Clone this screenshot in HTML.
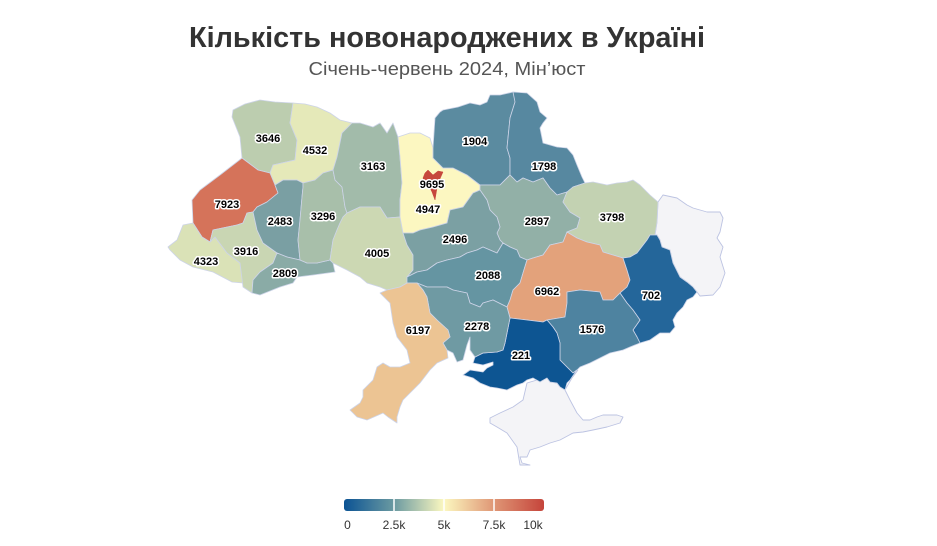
<!DOCTYPE html>
<html>
<head>
<meta charset="utf-8">
<style>
  html, body { margin:0; padding:0; background:#ffffff; }
  body { width:937px; height:546px; overflow:hidden; }
  svg { display:block; }
  .r { stroke:#cdd4e8; stroke-width:0.8; stroke-linejoin:round; }
  .g { fill:#f4f4f7; stroke:#bcc3e2; stroke-width:0.9; stroke-linejoin:round; }
  .lbl { font-family:"Liberation Sans", Arial, sans-serif; font-weight:bold; font-size:11px; fill:#000;
         stroke:#ffffff; stroke-width:3px; stroke-linejoin:round; paint-order:stroke; text-anchor:middle; }
</style>
</head>
<body>
<svg width="937" height="546" viewBox="0 0 937 546" xmlns="http://www.w3.org/2000/svg">
  <rect width="937" height="546" fill="#ffffff"/>

  <text x="447" y="47" text-anchor="middle" font-family="Liberation Sans, Arial, sans-serif" font-weight="bold" font-size="29" fill="#333333" textLength="516" lengthAdjust="spacingAndGlyphs">Кількість новонароджених в Україні</text>
  <text x="447" y="75" text-anchor="middle" font-family="Liberation Sans, Arial, sans-serif" font-size="18" fill="#555555" textLength="277" lengthAdjust="spacingAndGlyphs">Січень-червень 2024, Мін’юст</text>

  <!-- Gray: Luhansk, Crimea -->
  <polygon class="g" points="658,202 663,195 677,198 687,205 693,208 707,212 720,212 723,218 720,232 717,238 723,247 720,257 725,273 720,287 713,295 700,296 697,292 693,287 687,282 680,277 673,263 670,250 662,247 660,240 657,235 655,235 657,222"/>
  <polygon class="g" points="490,418 500,413 513,407 523,400 527,383 537,380 547,378 550,382 557,383 560,387 565,390 570,400 577,413 583,420 590,420 597,417 603,415 617,415 623,417 620,423 607,427 593,430 583,432 573,433 560,440 550,443 540,447 530,450 527,457 520,457 522,463 530,465 520,465 517,447 507,433 497,427 490,423"/>
  <polyline points="565,390 572,378 578,370" fill="none" stroke="#bcc3e2" stroke-width="0.8"/>

  <!-- Volyn 3646 -->
  <polygon class="r" fill="#bccdaf" points="233,110 245,104 260,100 275,102 293,103 290,123 297,140 295,160 273,165 270,173 258,170 242,158 240,137 232,117"/>
  <!-- Rivne 4532 -->
  <polygon class="r" fill="#e5e9b9" points="293,103 305,104 317,107 330,113 340,120 352,123 342,133 337,157 333,170 323,173 315,180 303,183 297,180 283,180 275,185 270,173 273,165 295,160 297,140 290,123"/>
  <!-- Lviv 7923 -->
  <polygon class="r" fill="#d5735a" points="242,158 258,170 270,173 275,185 278,193 267,202 257,207 253,212 247,213 243,223 237,225 213,230 210,242 202,237 193,223 192,200 200,190 220,175"/>
  <!-- Zakarpattia 4323 -->
  <polygon class="r" fill="#dae2b7" points="183,225 193,223 202,237 210,242 215,237 227,253 240,263 243,283 232,282 213,272 193,267 180,260 170,250 168,247 177,240"/>
  <!-- Ivano-Frankivsk 3916 -->
  <polygon class="r" fill="#c9d6b3" points="213,230 237,225 243,223 247,213 253,212 257,230 263,243 277,253 273,263 260,272 253,280 252,293 243,287 240,263 227,253 215,237 210,242"/>
  <!-- Ternopil 2483 -->
  <polygon class="r" fill="#7a9fa3" points="275,185 283,180 297,180 303,183 303,187 302,197 300,220 298,240 300,260 287,257 277,253 263,243 257,230 253,212 257,207 267,202 278,193"/>
  <!-- Chernivtsi 2809 -->
  <polygon class="r" fill="#8aaba6" points="253,280 260,272 273,263 277,253 287,257 300,260 307,263 317,263 330,260 333,263 335,272 313,275 297,277 293,283 280,287 260,295 252,293"/>
  <!-- Khmelnytskyi 3296 -->
  <polygon class="r" fill="#a8bfaa" points="303,183 315,180 323,173 333,170 335,180 342,187 345,207 347,213 343,217 340,223 337,230 333,240 330,260 317,263 307,263 300,260 298,240 300,220 302,197 303,187"/>
  <!-- Zhytomyr 3163 -->
  <polygon class="r" fill="#a2bbaa" points="352,123 360,123 373,127 380,123 387,133 393,123 398,137 400,157 402,183 400,200 400,217 387,218 380,207 360,207 347,213 345,207 342,187 335,180 333,170 337,157 342,133"/>
  <!-- Vinnytsia 4005 -->
  <polygon class="r" fill="#ccd8b3" points="347,213 360,207 380,207 387,218 400,217 403,233 407,245 413,255 413,270 407,277 407,283 400,287 387,290 380,287 367,283 360,277 347,270 333,263 330,260 333,240 337,230 340,223 343,217"/>
  <!-- Kyiv oblast 4947 -->
  <polygon class="r" fill="#fcf7c1" points="398,137 410,133 420,133 430,138 433,148 433,158 443,168 453,168 467,175 480,185 480,190 473,193 463,207 450,210 447,223 433,227 420,230 413,233 403,233 400,217 400,200 402,183 400,157"/>
  <!-- Kyiv city 9695 -->
  <polygon fill="#c6473c" stroke="#c6473c" stroke-width="0.5" points="425,173 428,170 433,175 438,171 443,172 439,181 437,188 435,200 432,192 430,188 425,185 423,178"/>
  <!-- Chernihiv 1904 -->
  <polygon class="r" fill="#5b8ba0" points="433,148 435,118 440,112 443,110 458,107 470,103 480,105 487,102 490,95 500,95 513,92 518,93 515,102 510,118 507,148 510,158 510,175 500,185 487,185 480,185 467,175 453,168 443,168 433,158"/>
  <!-- Sumy 1798 -->
  <polygon class="r" fill="#5788a0" points="513,92 527,93 537,102 540,112 547,118 543,123 540,128 543,143 557,147 567,148 573,155 577,165 582,177 585,183 573,187 567,192 557,195 550,188 543,178 533,182 523,178 517,182 510,175 510,158 507,148 510,118 515,102"/>
  <!-- Poltava 2897 -->
  <polygon class="r" fill="#92b0a7" points="480,185 487,185 500,185 510,175 517,182 523,178 533,182 543,178 550,188 557,195 567,192 563,202 570,212 580,218 577,228 567,232 563,242 550,245 543,255 533,258 527,260 520,257 517,250 510,247 503,243 500,240 497,233 500,227 497,217 490,210 487,200 480,190"/>
  <!-- Cherkasy 2496 -->
  <polygon class="r" fill="#7ba0a3" points="480,190 487,200 490,210 497,217 500,227 497,233 500,240 503,243 497,253 490,250 483,247 477,250 467,253 460,257 447,260 437,263 427,270 417,272 407,277 413,270 413,255 407,245 403,233 413,233 420,230 433,227 447,223 450,210 463,207 473,193"/>
  <!-- Kirovohrad 2088 -->
  <polygon class="r" fill="#6595a2" points="407,277 417,272 427,270 437,263 447,260 460,257 467,253 477,250 483,247 490,250 497,253 503,243 510,247 517,250 520,257 527,260 523,273 520,283 513,290 510,300 507,307 493,300 483,303 480,307 470,303 467,293 453,290 447,287 427,287 417,283 407,283"/>
  <!-- Kharkiv 3798 -->
  <polygon class="r" fill="#c3d2b2" points="567,192 573,187 585,183 593,182 607,185 617,183 627,182 633,180 640,185 650,195 658,202 657,222 655,235 650,235 647,240 637,253 630,257 623,258 613,255 603,252 600,245 587,242 577,238 567,232 577,228 580,218 570,212 563,202"/>
  <!-- Dnipro 6962 -->
  <polygon class="r" fill="#e3a27b" points="527,260 533,258 543,255 550,245 563,242 567,232 577,238 587,242 600,245 603,252 613,255 623,258 627,270 630,280 627,287 620,293 613,300 603,300 600,292 580,290 567,292 567,303 565,317 547,320 543,322 527,320 510,318 507,307 510,300 513,290 520,283 523,273"/>
  <!-- Donetsk 702 -->
  <polygon class="r" fill="#24669a" points="623,258 630,257 637,253 647,240 650,235 655,235 657,235 660,240 662,247 670,250 673,263 680,277 687,282 693,287 697,292 693,297 687,300 683,307 677,313 673,320 675,327 670,333 660,333 650,340 640,343 637,337 633,330 640,320 633,310 627,303 620,293 627,287 630,280 627,270"/>
  <!-- Zaporizhzhia 1576 -->
  <polygon class="r" fill="#4e83a0" points="565,317 567,303 567,292 580,290 600,292 603,300 613,300 620,293 627,303 633,310 640,320 633,330 637,337 640,343 630,347 623,350 610,353 600,358 590,363 580,367 577,370 573,373 567,367 560,360 560,343 557,333 553,327 547,320"/>
  <!-- Kherson 221 -->
  <polygon class="r" fill="#0d5592" points="510,318 527,320 543,322 547,320 553,327 557,333 560,343 560,360 567,367 573,373 577,370 570,380 567,383 565,390 560,387 557,383 550,382 547,378 540,382 533,378 527,380 523,383 517,385 507,390 497,388 490,387 480,383 473,378 463,375 470,370 483,372 487,368 493,365 493,362 483,365 473,363 475,357 483,353 497,352 503,350 505,343 507,333"/>
  <!-- Mykolaiv 2278 -->
  <polygon class="r" fill="#6f9aa3" points="417,283 427,287 447,287 453,290 467,293 470,303 480,307 483,303 493,300 507,307 510,318 507,333 505,343 503,350 497,352 483,353 475,357 470,350 470,337 467,345 463,360 457,362 453,353 447,350 443,343 450,337 448,330 437,320 430,313 427,297 423,290"/>
  <!-- Odesa 6197 -->
  <polygon class="r" fill="#ecc493" points="380,293 387,290 400,287 407,283 417,283 423,290 427,297 430,313 437,320 448,330 450,337 443,343 447,350 448,358 437,363 430,370 420,383 413,390 403,400 400,407 397,417 397,423 388,417 383,413 367,420 357,417 350,410 360,403 363,397 363,390 373,380 377,367 383,363 390,367 400,367 410,363 407,350 397,337 393,323 390,303"/>

  <!-- Region labels -->
  <text class="lbl" x="268" y="142">3646</text>
  <text class="lbl" x="315" y="154">4532</text>
  <text class="lbl" x="373" y="170">3163</text>
  <text class="lbl" x="227" y="208">7923</text>
  <text class="lbl" x="280" y="225">2483</text>
  <text class="lbl" x="323" y="220">3296</text>
  <text class="lbl" x="206" y="265">4323</text>
  <text class="lbl" x="246" y="255">3916</text>
  <text class="lbl" x="285" y="277">2809</text>
  <text class="lbl" x="377" y="257">4005</text>
  <text class="lbl" x="432" y="188">9695</text>
  <text class="lbl" x="428" y="213">4947</text>
  <text class="lbl" x="475" y="145">1904</text>
  <text class="lbl" x="544" y="170">1798</text>
  <text class="lbl" x="455" y="243">2496</text>
  <text class="lbl" x="537" y="225">2897</text>
  <text class="lbl" x="612" y="221">3798</text>
  <text class="lbl" x="488" y="279">2088</text>
  <text class="lbl" x="547" y="295">6962</text>
  <text class="lbl" x="651" y="299">702</text>
  <text class="lbl" x="418" y="334">6197</text>
  <text class="lbl" x="477" y="330">2278</text>
  <text class="lbl" x="592" y="333">1576</text>
  <text class="lbl" x="521" y="359">221</text>

  <!-- Legend -->
  <defs>
    <linearGradient id="cg" x1="344" y1="0" x2="544" y2="0" gradientUnits="userSpaceOnUse">
      <stop offset="0" stop-color="#0b5394"/>
      <stop offset="0.25" stop-color="#6b9aa1"/>
      <stop offset="0.5" stop-color="#fcf8c0"/>
      <stop offset="0.75" stop-color="#df9675"/>
      <stop offset="1" stop-color="#c5443b"/>
    </linearGradient>
  </defs>
  <rect x="344" y="499" width="200" height="12" rx="3" ry="3" fill="url(#cg)"/>
  <line x1="394" y1="499" x2="394" y2="511" stroke="#ffffff" stroke-width="1.5"/>
  <line x1="444" y1="499" x2="444" y2="511" stroke="#ffffff" stroke-width="1.5"/>
  <line x1="494" y1="499" x2="494" y2="511" stroke="#ffffff" stroke-width="1.5"/>
  <g font-family="Liberation Sans, Arial, sans-serif" font-size="12" fill="#333333" text-anchor="middle">
    <text x="347.5" y="529">0</text>
    <text x="394" y="529">2.5k</text>
    <text x="444" y="529">5k</text>
    <text x="494" y="529">7.5k</text>
    <text x="533" y="529">10k</text>
  </g>
</svg>
</body>
</html>
